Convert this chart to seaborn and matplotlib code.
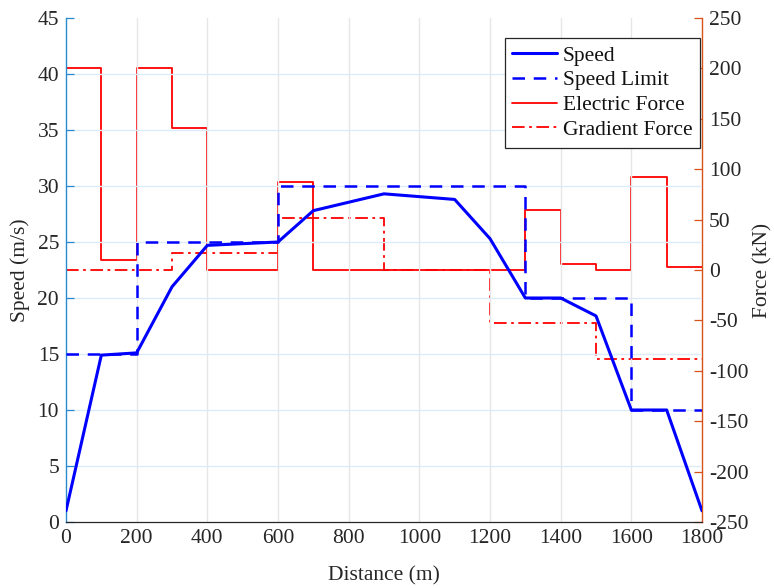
import numpy as np
import pandas as pd
import matplotlib
matplotlib.use("Agg")
import matplotlib.pyplot as plt
import seaborn as sns

# ---- data ----
speed_x = [0, 100, 200, 300, 400, 600, 700, 900, 1100, 1200, 1300, 1400, 1500, 1600, 1700, 1800]
speed_v = [1, 14.9, 15.1, 21, 24.7, 25, 27.8, 29.3, 28.8, 25.3, 20, 20, 18.4, 10, 10, 1]

limit_x = [0, 200, 600, 1300, 1600, 1800]
limit_v = [15, 25, 30, 20, 10, 10]

elec_x = [0, 100, 200, 300, 400, 600, 700, 1300, 1400, 1500, 1600, 1700, 1800]
elec_v = [200, 10, 200, 141, 0, 87, 0, 60, 6, 0, 92, 3, 3]

grad_x = [0, 300, 600, 900, 1200, 1500, 1800]
grad_v = [0, 17, 52, 0, -53, -88, -88]

x_ticks = list(range(0, 1801, 200))
speed_ticks = list(range(0, 46, 5))
force_ticks = list(range(-250, 251, 50))

# ---- style ----
sns.set_theme(style="white")
plt.rcParams['font.family'] = ['Liberation Serif', 'DejaVu Serif']
plt.rcParams['axes.unicode_minus'] = False
FS = 15.5
LEFT_C = '#2a8ad0'
RIGHT_C = '#D95319'
TXT = '#262626'

fig = plt.figure(figsize=(7.74, 5.88), dpi=100)
ax = fig.add_axes([66/774, 1-522/588, (702-66)/774, (522-18)/588])
ax2 = ax.twinx()

df_speed = pd.DataFrame({'x': speed_x, 'v': speed_v})
df_lim = pd.DataFrame({'x': limit_x, 'v': limit_v})
df_el = pd.DataFrame({'x': elec_x, 'v': elec_v})
df_gr = pd.DataFrame({'x': grad_x, 'v': grad_v})

sns.lineplot(data=df_speed, x='x', y='v', ax=ax, color='#0000ff', lw=2.2, label='Speed', legend=False, zorder=5)
sns.lineplot(data=df_lim, x='x', y='v', ax=ax, color='#0000ff', lw=1.8, ls=(0, (5, 3.5)), drawstyle='steps-post', label='Speed Limit', legend=False, zorder=4)
sns.lineplot(data=df_el, x='x', y='v', ax=ax2, color='#ff0000', lw=1.3, drawstyle='steps-post', label='Electric Force', legend=False)
sns.lineplot(data=df_gr, x='x', y='v', ax=ax2, color='#ff0000', lw=1.3, ls=(0, (7, 2.5, 1.5, 2.5)), drawstyle='steps-post', label='Gradient Force', legend=False)

# put left axis lines above right axis
ax.set_zorder(ax2.get_zorder() + 1)
ax.patch.set_visible(False)

ax.set_xlim(0, 1800)
ax.set_ylim(0, 45)
ax2.set_ylim(-250, 250)
ax.set_xticks(x_ticks)
ax.set_yticks(speed_ticks)
ax2.set_yticks(force_ticks)

ax.set_xlabel('Distance (m)', fontsize=FS, color=TXT, labelpad=13)
ax.set_ylabel('Speed (m/s)', fontsize=FS, color=TXT, labelpad=5)
ax2.set_ylabel('Force (kN)', fontsize=FS, color=TXT, labelpad=3.5)

# grid
ax.grid(False)
ax2.grid(False)
for xv in x_ticks[1:-1]:
    ax.axvline(xv, color='#e6e6e6', lw=1.0, zorder=0)
for yv in speed_ticks[1:-1]:
    ax.axhline(yv, color='#dcebf7', lw=1.0, zorder=0)

ax.tick_params(axis='x', direction='in', length=6, width=0.9, colors='#262626', labelsize=FS, pad=5, top=False)
ax.tick_params(axis='y', direction='in', length=6, width=0.9, color=LEFT_C, labelcolor=TXT, labelsize=FS, pad=5)
ax2.tick_params(axis='y', direction='in', length=6, width=0.9, color=RIGHT_C, labelcolor=TXT, labelsize=FS, pad=5)

for a in (ax, ax2):
    a.spines['top'].set_visible(False)
ax.spines['left'].set_color(LEFT_C)
ax.spines['left'].set_linewidth(1.0)
ax2.spines['left'].set_visible(False)
ax.spines['right'].set_visible(False)
ax2.spines['right'].set_color(RIGHT_C)
ax2.spines['right'].set_linewidth(1.0)
ax.spines['bottom'].set_color('#262626')
ax.spines['bottom'].set_linewidth(0.9)
ax2.spines['bottom'].set_visible(False)

h1, l1 = ax.get_legend_handles_labels()
h2, l2 = ax2.get_legend_handles_labels()
leg = ax.legend(h1 + h2, l1 + l2, loc='upper right', bbox_to_anchor=(700/774, 1-38/588),
                bbox_transform=fig.transFigure, fontsize=FS, frameon=True, fancybox=False,
                edgecolor='#262626', framealpha=1, borderaxespad=0, handlelength=2.1,
                handletextpad=0.25, labelspacing=0.22, borderpad=0.35)
leg.get_frame().set_linewidth(0.9)
for t in leg.get_texts():
    t.set_color('#111111')

fig.savefig('out.png', dpi=100)
